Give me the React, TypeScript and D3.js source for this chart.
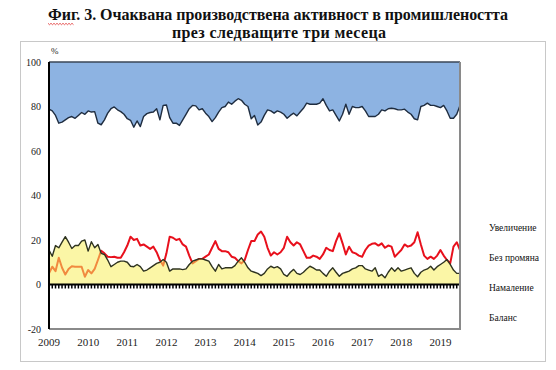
import * as d3 from "d3";
import { useEffect, useRef } from "react";

// monthly survey data, Jan 2009 - Jul 2019 (% of answers)
const increase = [
    21.2, 22, 24, 27.5, 27, 26, 25, 24.5, 25.3, 24, 22.7, 23.5,
    22, 22.5, 22.3, 27.5, 28.2, 26, 23, 21, 20.2, 21.5, 22.3, 23.5,
    25.5, 26.2, 29.3, 26.5, 29, 24.5, 23.2, 22.7, 22.5, 21, 26, 19.5,
    19.3, 25, 27.5, 27.5, 28.5, 26, 23.5, 21, 19.5, 19.7, 21.5, 21,
    23, 24.5, 26.8, 25, 22.5, 20.5, 20, 18, 19, 17.6, 16.5, 17.2,
    19, 20, 25.5, 24, 28.3, 27, 24, 21.5, 22, 23, 22, 22.5,
    23.5, 25.3, 24, 23, 24.2, 22.5, 20.8, 18.5, 19, 19, 19, 18.5,
    16.5, 19.5, 22, 21.5, 24, 26.5, 23.5, 19, 23.5, 20, 20.5, 20.5,
    20, 22, 24.5, 24.5, 24.5, 23.5, 21.5, 22, 21, 20.8, 21, 21.5,
    21.5, 21.2, 22.5, 23.5, 25.5, 26, 20, 19.5, 18.5, 19.5, 19.5, 20,
    20.5, 19.5, 22, 25.3, 25.3, 23.5, 19.5,
];
const decrease = [
    15.5, 12.7, 17.5, 16.5, 19, 21.5, 19, 16.2, 17.5, 17.5, 19.5, 20,
    15, 19.2, 16.5, 18, 14, 13.5, 11, 8, 9, 10, 10.5, 10.5,
    10, 8.2, 8, 9, 8, 6, 6.5, 7.5, 8.5, 9.5, 10, 11.2,
    10, 6, 7, 7, 7, 6.7, 7, 9, 10.5, 11, 11.5, 11.5,
    11, 10.5, 8, 6, 9, 7, 7.5, 7.5, 7.5, 8.5, 10.5, 12,
    10, 7.5, 6, 5.5, 5, 4, 5, 7, 8.2, 7.5, 8, 7,
    4.5, 3.7, 5.5, 6.8, 5, 4.5, 5.5, 7, 8.2, 7.5, 6.5, 6.5,
    5, 3.7, 6, 7.5, 5.5, 3.7, 5, 5.5, 6, 7, 7.5, 8.5,
    8.5, 7, 6.5, 6, 7.5, 3.7, 4.5, 3, 5.5, 7.5, 6, 7.5,
    6, 6.5, 7, 7.5, 5, 3.5, 5.5, 6.5, 7, 8.2, 6.5, 8,
    9, 10, 11.2, 9, 6.5, 5, 5,
];
const balance = [
    5, 8, 6, 12, 7.5, 4.5, 7, 8.2, 8, 8, 8, 3.5,
    6.5, 5, 7, 11, 15.2, 14, 12.5, 12.3, 12.5, 12, 12, 14.5,
    17.5, 21.5, 20, 20.5, 17.5, 18, 17, 16, 17, 14.5, 11, 8.5,
    14, 21.5, 21, 20, 20.5, 18, 17, 13, 9.5, 10.5, 11.5, 11.5,
    12.5, 13.5, 16.5, 19.5, 16, 15, 15, 14.5, 12.5, 12, 10.5, 9.5,
    11, 15.5, 19.5, 19.5, 22.5, 23.8, 21.5, 16.5, 13, 14.5, 13.5, 14.5,
    16.5, 21.5, 19, 17.5, 19, 18, 15, 12, 12, 13, 12.5, 11.5,
    13.5, 16.5, 15.5, 15, 19.5, 23, 18.5, 13.5, 17, 14.5, 14, 13,
    12.5, 15.5, 17.5, 18.3, 18.5, 17.5, 18.5, 16.5, 17.5, 17, 12.5, 14,
    15.5, 18, 17, 17.5, 19, 23.5, 18, 13, 11.5, 12.5, 11.5, 13,
    15.5, 13, 11, 9.5, 17, 19, 15.5,
];
const years = ["2009", "2010", "2011", "2012", "2013", "2014", "2015", "2016", "2017", "2018", "2019"];
const yTicks = [-20, 0, 20, 40, 60, 80, 100];
const legendLabels = ["Увеличение", "Без промяна", "Намаление", "Баланс"];

const W = 556;
const H = 370;
const plotLeft = 49;
const plotRight = 460;
const plotTop = 62;
const plotBottom = 329;

export default function App() {
    const svgRef = useRef<SVGSVGElement>(null);

    useEffect(() => {
        if (svgRef.current) {
            drawChart();
        }
    }, [svgRef]);

    const drawChart = () => {
        const svg = d3.select(svgRef.current);
        svg.selectAll("*").remove();
        const n = increase.length;

        var scaleX = d3.scaleLinear().domain([0, n - 1]).range([plotLeft, plotRight]);
        var scaleY = d3.scaleLinear().domain([-20, 100]).range([plotBottom, plotTop]);
        const idx = d3.range(n);

        // outer frame
        svg.append("rect")
            .attr("x", 20.5)
            .attr("y", 41.5)
            .attr("width", 525)
            .attr("height", 320)
            .attr("fill", "white")
            .attr("stroke", "#c8c8c8")
            .attr("stroke-width", 1);

        // title
        const title = svg.append("g")
            .attr("font-family", "'Liberation Serif', 'Times New Roman', serif")
            .attr("font-weight", "bold")
            .attr("font-size", 16)
            .attr("fill", "#111");
        title.append("text")
            .attr("x", 48).attr("y", 20)
            .attr("textLength", 460).attr("lengthAdjust", "spacing")
            .text("Фиг. 3. Очаквана производствена активност в промишлеността");
        title.append("text")
            .attr("x", 172).attr("y", 38)
            .attr("textLength", 214).attr("lengthAdjust", "spacing")
            .text("през следващите три месеца");
        // spell-check squiggle under "Фиг"
        const wave = d3.range(0, 26, 1.5).map((d, i) => [48 + d, 23.5 + (i % 2 ? 1.2 : -0.2)] as [number, number]);
        svg.append("path")
            .attr("d", d3.line()(wave))
            .attr("fill", "none")
            .attr("stroke", "#e03030")
            .attr("stroke-width", 0.8);

        // stacked top: blue area of "increase"
        svg.append("path")
            .datum(idx)
            .attr("fill", "#8db3e2")
            .attr(
                "d",
                d3.area<number>()
                    .x((i) => scaleX(i))
                    .y0((i) => scaleY(100 - increase[i]))
                    .y1(() => scaleY(100))
            );
        svg.append("path")
            .datum(idx)
            .attr("fill", "none")
            .attr("stroke", "#1f2d40")
            .attr("stroke-width", 1.4)
            .attr("stroke-linejoin", "round")
            .attr("d", d3.line<number>().x((i) => scaleX(i)).y((i) => scaleY(100 - increase[i])));
        svg.append("line")
            .attr("x1", plotLeft).attr("x2", plotRight)
            .attr("y1", scaleY(100)).attr("y2", scaleY(100))
            .attr("stroke", "#3a4656").attr("stroke-width", 1.6);

        // balance line
        svg.append("path")
            .datum(balance)
            .attr("fill", "none")
            .attr("stroke", "#e8101c")
            .attr("stroke-width", 2)
            .attr("stroke-linejoin", "round")
            .attr("d", d3.line<number>().x((d, i) => scaleX(i)).y((d) => scaleY(d)));

        // decrease area, semi-transparent over the balance line
        svg.append("path")
            .datum(decrease)
            .attr("fill", "#f7ef5c")
            .attr("fill-opacity", 0.55)
            .attr("d", d3.area<number>().x((d, i) => scaleX(i)).y0(scaleY(0)).y1((d) => scaleY(d)));
        svg.append("path")
            .datum(decrease)
            .attr("fill", "none")
            .attr("stroke", "#2e3320")
            .attr("stroke-width", 1.4)
            .attr("stroke-linejoin", "round")
            .attr("d", d3.line<number>().x((d, i) => scaleX(i)).y((d) => scaleY(d)));

        // zero line with monthly ticks
        svg.append("line")
            .attr("x1", plotLeft).attr("x2", plotRight)
            .attr("y1", scaleY(0)).attr("y2", scaleY(0))
            .attr("stroke", "black").attr("stroke-width", 2);
        svg.append("g")
            .selectAll("line")
            .data(idx)
            .join("line")
            .attr("x1", (i) => scaleX(i)).attr("x2", (i) => scaleX(i))
            .attr("y1", scaleY(0)).attr("y2", scaleY(0) + 4)
            .attr("stroke", "black").attr("stroke-width", 1.5);

        // plot border
        svg.append("path")
            .attr("d", `M${plotRight},${plotTop}V${plotBottom}H${plotLeft}`)
            .attr("fill", "none")
            .attr("stroke", "#8a8a8a")
            .attr("stroke-width", 2);
        svg.append("line")
            .attr("x1", plotLeft).attr("x2", plotLeft)
            .attr("y1", plotTop).attr("y2", plotBottom)
            .attr("stroke", "black").attr("stroke-width", 2);

        const font = "'Liberation Serif', 'Times New Roman', serif";

        // y labels
        svg.append("g")
            .selectAll("text")
            .data(yTicks)
            .join("text")
            .attr("x", 41)
            .attr("y", (d) => scaleY(d) + 3.5)
            .attr("text-anchor", "end")
            .attr("font-family", font)
            .attr("font-size", 10)
            .attr("fill", "#222")
            .text((d) => `${d}`);
        svg.append("text")
            .attr("x", 51).attr("y", 54)
            .attr("font-family", font).attr("font-size", 9).attr("fill", "#222")
            .text("%");

        // x labels
        svg.append("g")
            .selectAll("text")
            .data(years)
            .join("text")
            .attr("x", (d, i) => scaleX(i * 12))
            .attr("y", 346)
            .attr("text-anchor", "middle")
            .attr("font-family", font)
            .attr("font-size", 11)
            .attr("fill", "#222")
            .text((d) => d);

        // legend (markers are white in the original)
        svg.append("g")
            .selectAll("text")
            .data(legendLabels)
            .join("text")
            .attr("x", 489)
            .attr("y", (d, i) => 231 + i * 30)
            .attr("font-family", font)
            .attr("font-size", 9.5)
            .attr("fill", "#111")
            .text((d) => d);
    };

    return <svg ref={svgRef} width={W} height={H} style={{ position: "absolute", left: 0, top: 0 }} />;
}
